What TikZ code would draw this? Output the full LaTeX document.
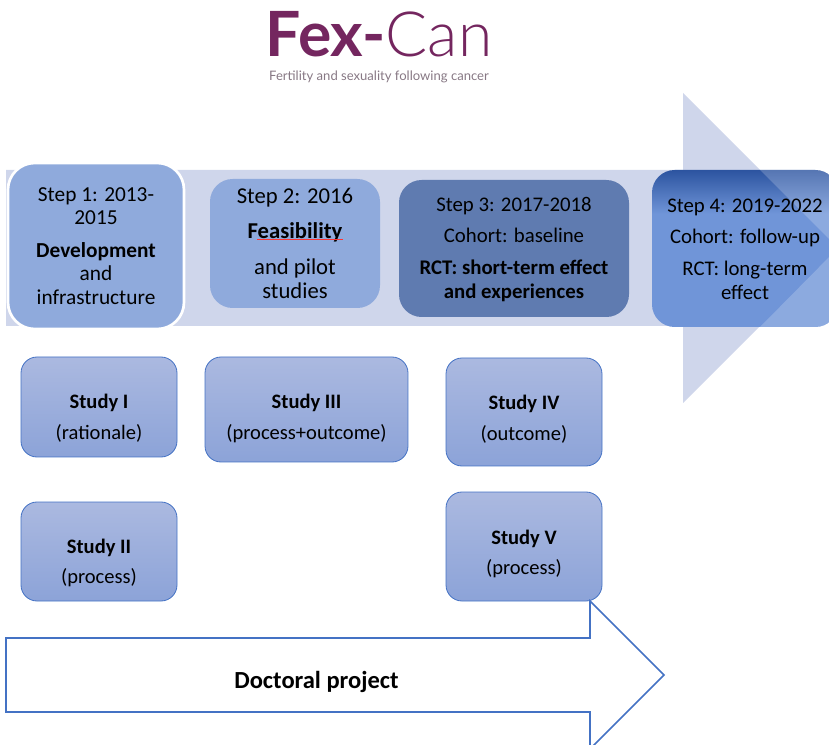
\documentclass[tikz,border=0pt]{standalone}
\usepackage{fontspec}
\setmainfont{Carlito}
\newfontfamily\logofont{Lato}
\newfontfamily\logolight{Lato Light}
\definecolor{arrowpale}{RGB}{207,214,235}
\definecolor{stepblue}{RGB}{143,170,220}
\definecolor{stepdark}{RGB}{95,123,176}
\definecolor{stepmid}{RGB}{112,149,216}
\definecolor{steptop}{RGB}{44,84,160}
\definecolor{studytop}{RGB}{171,185,224}
\definecolor{studybottom}{RGB}{140,163,216}
\definecolor{edgeblue}{RGB}{68,114,196}
\definecolor{logopurple}{RGB}{116,38,95}
\definecolor{logogrey}{RGB}{135,120,132}
\pgfdeclareverticalshading{stepfour}{100bp}{color(0bp)=(stepmid); color(61bp)=(stepmid); color(75bp)=(steptop); color(100bp)=(steptop)}
\begin{document}
\begin{tikzpicture}[x=0.75pt,y=-0.75pt,
    stepbox/.style={rounded corners=17pt,align=center,inner sep=0pt},
    steptext/.style={align=center,inner sep=0pt,font=\fontsize{15.6}{18}\selectfont},
    studybox/.style={draw=edgeblue,line width=0.6pt,rounded corners=12pt,top color=studytop,bottom color=studybottom,inner sep=0pt},
    studytext/.style={align=center,inner sep=0pt,font=\fontsize{15.4}{18.5}\selectfont}]
    \useasboundingbox (0,0) rectangle (829,745);
    \clip (0,0) rectangle (829,745);
    % logo
    \node[anchor=base,inner sep=0pt,text=logopurple,font=\fontsize{46.8}{50}\selectfont] (logo) at (379,57) {{\logofont\bfseries Fex-}{\logolight Can}};
    \node[inner sep=0pt,text=logogrey,font=\logofont\fontsize{9.8}{11}\selectfont] (tagline) at (379,77) {Fertility and sexuality following cancer};
    % big arrow
    \fill[arrowpale] (6,170)--(683,170)--(683,93)--(838,248)--(683,403)--(683,326)--(6,326)--cycle;
    % steps
    \node[stepbox,rounded corners=20pt,fill=stepblue,draw=white,line width=2pt,minimum width=132pt,minimum height=124.5pt,
        font=\fontsize{16}{17.6}\selectfont] (stepone) at (96,246)
        {Step 1: 2013-\\2015\\[7pt]\textbf{Development}\\and\\infrastructure};
    \node[stepbox,fill=stepblue,minimum width=127.5pt,minimum height=96.75pt,
        font=\fontsize{17}{18.6}\selectfont] (steptwo) at (295,243.5)
        {Step 2: 2016\\[8pt]\textbf{Feasibility}\\[8pt]and pilot\\studies};
    \draw[red!80,line width=0.2pt] (257,239)--(343,239);
    \node[stepbox,fill=stepdark,minimum width=172.5pt,minimum height=102.75pt] (stepthree) at (514,248.5) {};
    \node[steptext] (stepthreetext) at (514,249.5)
        {Step 3: 2017-2018\\[5.5pt]Cohort: baseline\\[5.5pt]\textbf{RCT: short-term effect}\\\textbf{and experiences}};
    \node[stepbox,shading=stepfour,minimum width=139.5pt,minimum height=117.75pt] (stepfour) at (745,248.5) {};
    \begin{scope}
        \clip[rounded corners=17pt] (652,170) rectangle (838,327);
        \fill[white,fill opacity=0.2] (760,170)--(838,248)--(838,170)--cycle;
        \fill[white,fill opacity=0.2] (760,327)--(838,248)--(838,327)--cycle;
    \end{scope}
    \node[steptext] (stepfourtext) at (745,249)
        {Step 4: 2019-2022\\[5.5pt]Cohort: follow-up\\[5.5pt]RCT: long-term\\effect};
    % studies
    \foreach \name/\x/\y/\w/\h/\ty/\title/\kind in {
        studyone/99/407/156/100/418.5/Study I/rationale,
        studytwo/99/551.5/156/99/563/Study II/process,
        studythree/306.5/409.5/203/105/418.5/Study III/process+outcome,
        studyfour/524/412/156/108/419.5/Study IV/outcome,
        studyfive/524/546.5/156/109/554/Study V/process}{
        \node[studybox,minimum width=\w*0.75pt,minimum height=\h*0.75pt] (\name) at (\x,\y) {};
        \node[studytext] (\name text) at (\x,\ty) {\textbf{\title}\\[4.5pt](\kind)};
    }
    % doctoral arrow
    \draw[edgeblue,line width=1.2pt,fill=white] (6,638)--(590,638)--(590,601)--(664,675)--(590,749)--(590,712)--(6,712)--cycle;
    \node[inner sep=0pt,font=\fontsize{18.4}{20}\selectfont\bfseries] (doctoral) at (316.5,682) {Doctoral project};
\end{tikzpicture}
\end{document}
